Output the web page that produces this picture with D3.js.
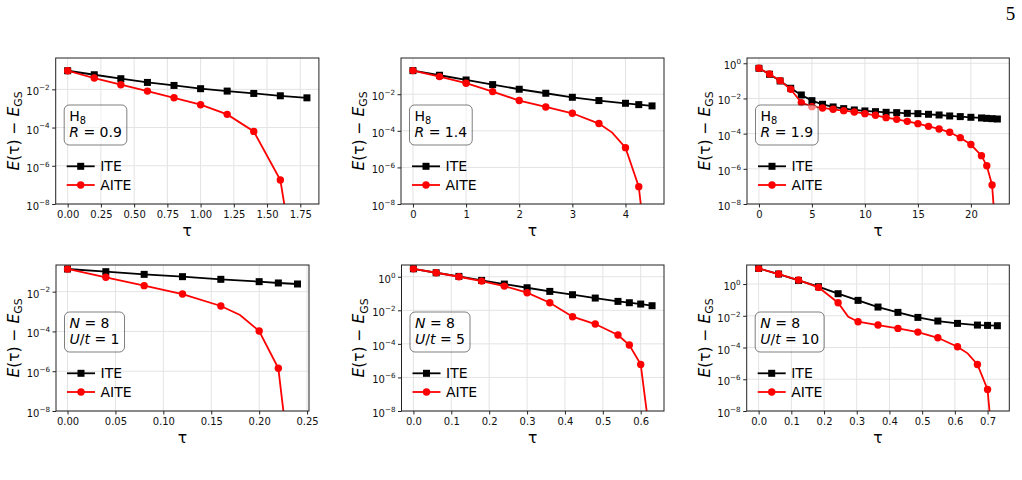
<!DOCTYPE html>
<html>
<head>
<meta charset="utf-8">
<script src="https://cdn.jsdelivr.net/npm/d3@7"></script>
<style>
  body { margin: 0; background: #fff; }
  svg { display: block; font-family: "DejaVu Sans", sans-serif; }
</style>
</head>
<body>
<svg id="fig" width="1022" height="480"></svg>
<script>
  // ---- data ----
  // H8, R = 0.9
  const tauH09 = [0, 0.2, 0.4, 0.6, 0.8, 1.0, 1.2, 1.4, 1.6, 1.8];
  const iteH09 = [0.094, 0.058, 0.036, 0.023, 0.016, 0.0108, 0.0081, 0.0061, 0.0046, 0.0036];
  const aiteH09 = [0.094, 0.039, 0.0175, 0.0081, 0.0036, 0.00157, 4.9e-4, 6.3e-5, 1.8e-7, 5e-16];
  const xTicksH09 = [0, 0.25, 0.5, 0.75, 1.0, 1.25, 1.5, 1.75];

  // H8, R = 1.4
  const tauH14Ite = [0, 0.5, 1, 1.5, 2, 2.5, 3, 3.5, 4, 4.25, 4.5];
  const iteH14 = [0.195, 0.109, 0.060, 0.0336, 0.0187, 0.0113, 0.0068, 0.0045, 0.0032, 0.0027, 0.0023];
  const tauH14Aite = [0, 0.5, 1, 1.5, 2, 2.5, 3, 3.5, 3.75, 4, 4.25, 4.5];
  const aiteH14 = [0.195, 0.092, 0.040, 0.0139, 0.0045, 0.00202, 9.1e-4, 2.5e-4, 8.0e-5, 1.2e-5, 8.9e-8, 4e-14];
  const xTicksH14 = [0, 1, 2, 3, 4];

  // H8, R = 1.9
  const tauH19 = [0, 1, 2, 3, 4, 5, 6, 7, 8, 9, 10, 11, 12, 13, 14, 15, 16, 17, 18, 19, 20, 21, 21.5, 22, 22.5];
  const iteH19 = [0.52, 0.237, 0.099, 0.038, 0.0158, 0.0075, 0.00466, 0.00329, 0.00264, 0.00222,
    0.00195, 0.00178, 0.00163, 0.00156, 0.00143, 0.00137, 0.00126, 0.00115, 0.00101, 9.3e-4,
    8.5e-4, 7.8e-4, 7.4e-4, 7.1e-4, 6.8e-4];
  const aiteH19 = [0.52, 0.247, 0.103, 0.0332, 0.0058, 0.00343, 0.00288, 0.00242, 0.00203, 0.00171,
    0.00137, 0.0011, 8.1e-4, 6.5e-4, 5.0e-4, 3.7e-4, 2.6e-4, 1.84e-4, 1.19e-4, 5.9e-5,
    2.4e-5, 5.6e-6, 1.5e-6, 1.2e-7, 1e-11];
  const xTicksH19 = [0, 5, 10, 15, 20];

  // N = 8, U/t = 1
  const tauU1Ite = [0, 0.04, 0.08, 0.12, 0.16, 0.20, 0.22, 0.24];
  const iteU1 = [0.138, 0.101, 0.074, 0.0567, 0.0417, 0.0318, 0.0273, 0.0243];
  const tauU1Aite = [0, 0.04, 0.08, 0.12, 0.16, 0.18, 0.20, 0.22, 0.24];
  const aiteU1 = [0.138, 0.0526, 0.020, 0.0076, 0.0019, 6.7e-4, 1.05e-4, 1.4e-6, 1e-14];
  const xTicksU1 = [0, 0.05, 0.10, 0.15, 0.20, 0.25];

  // N = 8, U/t = 5
  const tauU5 = [0, 0.06, 0.12, 0.18, 0.24, 0.30, 0.36, 0.42, 0.48, 0.54, 0.57, 0.60, 0.63];
  const iteU5 = [2.99, 1.73, 1.05, 0.605, 0.366, 0.221, 0.134, 0.085, 0.0537, 0.034, 0.0283, 0.0236, 0.0188];
  const aiteU5 = [2.99, 1.73, 1.0, 0.552, 0.278, 0.112, 0.0283, 0.00416, 0.00152, 3.4e-4, 8.6e-5, 6.0e-6, 3e-11];
  const xTicksU5 = [0, 0.1, 0.2, 0.3, 0.4, 0.5, 0.6];

  // N = 8, U/t = 10
  const tauU10Ite = [0, 0.061, 0.122, 0.183, 0.243, 0.304, 0.365, 0.426, 0.487, 0.548, 0.608, 0.669, 0.700, 0.730];
  const iteU10 = [9.7, 4.27, 1.70, 0.679, 0.246, 0.0935, 0.0355, 0.0164, 0.0079, 0.00466, 0.00332, 0.0026, 0.00248, 0.00237];
  const tauU10Aite = [0, 0.061, 0.122, 0.183, 0.243, 0.274, 0.304, 0.365, 0.426, 0.487, 0.548, 0.608, 0.639, 0.669, 0.700, 0.730];
  const aiteU10 = [9.7, 4.27, 1.79, 0.616, 0.0666, 0.0087, 0.00423, 0.0026, 0.0016, 9.4e-4, 4.1e-4, 1.12e-4, 4.3e-5, 8.6e-6, 2.3e-7, 3e-14];
  const xTicksU10 = [0, 0.1, 0.2, 0.3, 0.4, 0.5, 0.6, 0.7];

  // AITE points drawn without a marker
  const unmarkedH14 = [3.75];
  const unmarkedU1 = [0.18];
  const unmarkedU10 = [0.274, 0.639];

  const zip = (t, e) => t.map((x, i) => ({ t: x, e: e[i] }));

  const panels = [
    { left: 55.7, top: 58, width: 263.2, xTicks: xTicksH09, fmt: '.2f', yTop: Math.pow(10, -0.36),
      ite: zip(tauH09, iteH09), aite: zip(tauH09, aiteH09), unmarked: [],
      label: [[['H'], ['8', 'sub']], [['R', 'it'], [' = 0.9']]] },
    { left: 401, top: 58, width: 263, xTicks: xTicksH14, fmt: 'd', yTop: Math.pow(10, -0.02),
      ite: zip(tauH14Ite, iteH14), aite: zip(tauH14Aite, aiteH14), unmarked: unmarkedH14,
      label: [[['H'], ['8', 'sub']], [['R', 'it'], [' = 1.4']]] },
    { left: 747, top: 58, width: 262.3, xTicks: xTicksH19, fmt: 'd', yTop: Math.pow(10, 0.3),
      ite: zip(tauH19, iteH19), aite: zip(tauH19, aiteH19), unmarked: [],
      label: [[['H'], ['8', 'sub']], [['R', 'it'], [' = 1.9']]] },
    { left: 56, top: 265, width: 253, xTicks: xTicksU1, fmt: '.2f', yTop: Math.pow(10, -0.66),
      ite: zip(tauU1Ite, iteU1), aite: zip(tauU1Aite, aiteU1), unmarked: unmarkedU1,
      label: [[['N', 'it'], [' = 8']], [['U', 'it'], ['/'], ['t', 'it'], [' = 1']]] },
    { left: 401.5, top: 265, width: 262.5, xTicks: xTicksU5, fmt: '.1f', yTop: Math.pow(10, 0.7),
      ite: zip(tauU5, iteU5), aite: zip(tauU5, aiteU5), unmarked: [],
      label: [[['N', 'it'], [' = 8']], [['U', 'it'], ['/'], ['t', 'it'], [' = 5']]] },
    { left: 746.7, top: 265, width: 262.6, xTicks: xTicksU10, fmt: '.1f', yTop: Math.pow(10, 1.2),
      ite: zip(tauU10Ite, iteU10), aite: zip(tauU10Aite, aiteU10), unmarked: unmarkedU10,
      label: [[['N', 'it'], [' = 8']], [['U', 'it'], ['/'], ['t', 'it'], [' = 10']]] }
  ];

  const svg = d3.select('#fig');
  const height = 146;
  const yBottom = 1e-8;
  const lineW = 1.8;
  const tickFont = 10;

  panels.forEach((p, k) => {
    const all = p.ite.concat(p.aite).map(d => d.t);
    const [tMin, tMax] = d3.extent(all);
    const pad = 0.05 * (tMax - tMin);

    const x = d3.scaleLinear().domain([tMin - pad, tMax + pad]).range([0, p.width]);
    const y = d3.scaleLog().domain([yBottom, p.yTop]).range([height, 0]);

    const g = svg.append('g').attr('transform', `translate(${p.left},${p.top})`);

    g.append('clipPath').attr('id', `clip${k}`)
      .append('rect').attr('width', p.width).attr('height', height);

    // grid
    const yTicks = [-8, -6, -4, -2, 0].map(v => Math.pow(10, v)).filter(v => v <= p.yTop);
    g.append('g').selectAll('line').data(p.xTicks).enter().append('line')
      .attr('x1', d => x(d)).attr('x2', d => x(d))
      .attr('y1', 0).attr('y2', height)
      .attr('stroke', '#e3e3e3').attr('stroke-width', 1);
    g.append('g').selectAll('line').data(yTicks).enter().append('line')
      .attr('x1', 0).attr('x2', p.width)
      .attr('y1', d => y(d)).attr('y2', d => y(d))
      .attr('stroke', '#e3e3e3').attr('stroke-width', 1);

    // series
    const line = d3.line().x(d => x(d.t)).y(d => y(d.e));
    const plot = g.append('g').attr('clip-path', `url(#clip${k})`);

    plot.append('path').datum(p.ite)
      .attr('d', line).attr('fill', 'none')
      .attr('stroke', '#000').attr('stroke-width', lineW);
    plot.selectAll('rect.ite').data(p.ite).enter().append('rect')
      .attr('class', 'ite')
      .attr('x', d => x(d.t) - 3.5).attr('y', d => y(d.e) - 3.5)
      .attr('width', 7).attr('height', 7).attr('fill', '#000');

    plot.append('path').datum(p.aite)
      .attr('d', line).attr('fill', 'none')
      .attr('stroke', '#ff0000').attr('stroke-width', lineW);
    plot.selectAll('circle.aite').data(p.aite.filter(d => !p.unmarked.includes(d.t))).enter()
      .append('circle')
      .attr('class', 'aite')
      .attr('cx', d => x(d.t)).attr('cy', d => y(d.e))
      .attr('r', 3.7).attr('fill', '#ff0000');

    // axes
    const xAxis = d3.axisBottom(x).tickValues(p.xTicks)
      .tickFormat(d3.format(p.fmt)).tickSizeInner(3.5).tickSizeOuter(0).tickPadding(3.5);
    const xg = g.append('g').attr('transform', `translate(0,${height})`).call(xAxis);
    xg.select('.domain').remove();
    xg.selectAll('.tick line').attr('stroke', '#222');
    xg.selectAll('.tick text').attr('font-size', tickFont).attr('font-family', '"DejaVu Sans"').attr('fill', '#111');

    const yAxis = d3.axisLeft(y).tickValues(yTicks).tickFormat('')
      .tickSizeInner(3.5).tickSizeOuter(0).tickPadding(2.5);
    const yg = g.append('g').call(yAxis);
    yg.select('.domain').remove();
    yg.selectAll('.tick line').attr('stroke', '#222');
    yg.selectAll('.tick text').each(function (d) {
      const t = d3.select(this).text(null)
        .attr('font-size', tickFont).attr('font-family', '"DejaVu Sans"').attr('fill', '#111')
        .attr('dy', '0.55em');
      t.append('tspan').text('10');
      const e = Math.round(Math.log10(d));
      t.append('tspan').attr('font-size', 7.2).attr('dy', -5.2)
        .text(e < 0 ? '\u2212' + (-e) : String(e));
    });

    // frame
    g.append('rect').attr('width', p.width).attr('height', height)
      .attr('fill', 'none').attr('stroke', '#222').attr('stroke-width', 1);

    // axis labels
    const yl = g.append('text')
      .attr('transform', `translate(-42.5,${height / 2}) rotate(-90)`)
      .attr('dy', '0.35em')
      .attr('text-anchor', 'middle').attr('font-size', 15.5).attr('fill', '#000');
    yl.append('tspan').attr('font-style', 'italic').text('E');
    yl.append('tspan').text('(\u03c4) \u2212 ');
    yl.append('tspan').attr('font-style', 'italic').text('E');
    yl.append('tspan').attr('font-size', '70%').attr('dy', 3.5).text('GS');

    g.append('text')
      .attr('x', p.width / 2).attr('y', height + 32)
      .attr('text-anchor', 'middle').attr('font-size', 15.5).attr('fill', '#000')
      .text('\u03c4');

    // annotation box
    const box = g.append('g');
    const rect = box.append('rect');
    const txt = box.append('text').attr('font-size', 14).attr('fill', '#000');
    p.label.forEach((runs, i) => {
      const row = txt.append('tspan').attr('x', 13.5).attr('y', i === 0 ? 62.5 : 79);
      runs.forEach(([s, style]) => {
        const ts = row.append('tspan').text(s);
        if (style === 'it') ts.attr('font-style', 'italic');
        if (style === 'sub') ts.attr('font-size', '70%').attr('dy', 3);
      });
    });
    const bb = txt.node().getBBox();
    rect.attr('x', 8.5).attr('y', 47)
      .attr('width', bb.width + 10).attr('height', 40)
      .attr('rx', 5)
      .attr('fill', '#fff').attr('fill-opacity', 0.5)
      .attr('stroke', '#000').attr('stroke-opacity', 0.5).attr('stroke-width', 1);

    // legend
    const leg = g.append('g');
    const rows = [
      { name: 'ITE', color: '#000', shape: 'square' },
      { name: 'AITE', color: '#ff0000', shape: 'circle' }
    ];
    rows.forEach((r, i) => {
      const ly = 108.3 + i * 18.7;
      leg.append('line').attr('x1', 11).attr('x2', 39).attr('y1', ly).attr('y2', ly)
        .attr('stroke', r.color).attr('stroke-width', lineW);
      if (r.shape === 'square') {
        leg.append('rect').attr('x', 25 - 3.5).attr('y', ly - 3.5)
          .attr('width', 7).attr('height', 7).attr('fill', r.color);
      } else {
        leg.append('circle').attr('cx', 25).attr('cy', ly).attr('r', 3.7).attr('fill', r.color);
      }
      leg.append('text').attr('x', 44.5).attr('y', ly).attr('dy', '0.36em')
        .attr('font-size', 14).attr('fill', '#000').text(r.name);
    });
  });

  // page number
  svg.append('text')
    .attr('x', 1010.5).attr('y', 20)
    .attr('text-anchor', 'middle')
    .attr('font-family', '"Liberation Serif", serif')
    .attr('font-size', 19)
    .text('5');
</script>
</body>
</html>
